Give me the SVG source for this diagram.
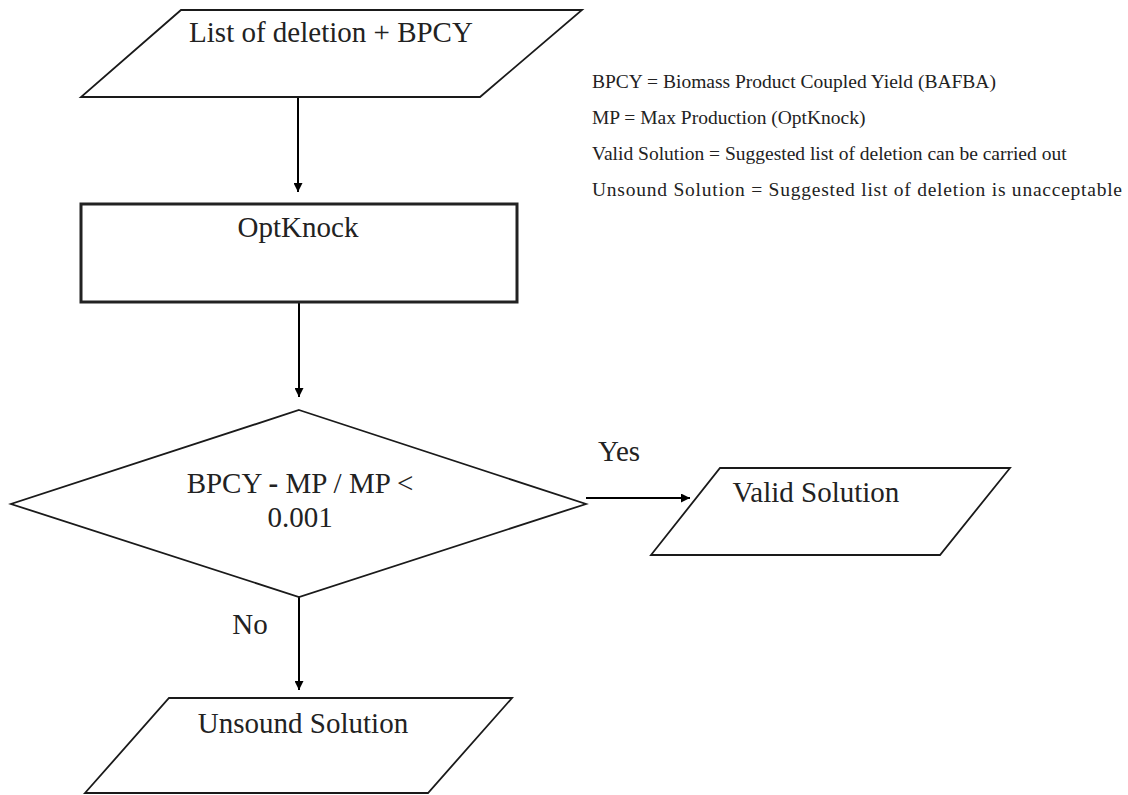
<svg xmlns="http://www.w3.org/2000/svg" width="1128" height="795" viewBox="0 0 1128 795">
<defs>
<style>
.shape{fill:#fff;stroke:#1a1a1a;stroke-width:1.8;stroke-linejoin:miter}
.rect{fill:#fff;stroke:#222;stroke-width:3}
.lbl{font-family:"Liberation Serif","Times New Roman",serif;font-size:29px;fill:#222;text-anchor:middle}
.leg{font-family:"Liberation Serif","Times New Roman",serif;font-size:19.5px;fill:#222}
.conn{stroke:#000;stroke-width:2;fill:none}
</style>
<marker id="arr" viewBox="0 0 10 10" refX="10" refY="5" markerWidth="9" markerHeight="9" markerUnits="userSpaceOnUse" orient="auto">
<path d="M0,0 L10,5 L0,10 z" fill="#000"/>
</marker>
</defs>
<rect width="1128" height="795" fill="#fff"/>
<g id="connectors">
<line class="conn" x1="298" y1="97" x2="298" y2="192" marker-end="url(#arr)"/>
<line class="conn" x1="299" y1="302" x2="299" y2="397" marker-end="url(#arr)"/>
<line class="conn" x1="586" y1="498" x2="690" y2="498" marker-end="url(#arr)"/>
<line class="conn" x1="299" y1="597" x2="299" y2="690" marker-end="url(#arr)"/>
<text class="lbl" x="619" y="461">Yes</text>
<text class="lbl" x="250" y="634">No</text>
</g>
<g id="node-input">
<polygon class="shape" points="181,10 582,10 480,97 81,97"/>
<text class="lbl" x="331" y="42">List of deletion + BPCY</text>
</g>
<g id="node-optknock">
<rect class="rect" x="81" y="204" width="436" height="98"/>
<text class="lbl" x="298" y="237">OptKnock</text>
</g>
<g id="node-decision">
<polygon class="shape" points="299,410 586,504 299,597 11,504"/>
<text class="lbl" x="300" y="493">BPCY <tspan font-weight="bold">-</tspan> MP / MP &lt;</text>
<text class="lbl" x="300" y="527">0.001</text>
</g>
<g id="node-valid">
<polygon class="shape" points="720,468 1010,468 940,555 651,555"/>
<text class="lbl" x="816" y="502">Valid Solution</text>
</g>
<g id="node-unsound">
<polygon class="shape" points="169,698 512,698 428,793 85,793"/>
<text class="lbl" x="303" y="733">Unsound Solution</text>
</g>
<g id="legend">
<text class="leg" x="592" y="88">BPCY = Biomass Product Coupled Yield (BAFBA)</text>
<text class="leg" x="592" y="124">MP = Max Production (OptKnock)</text>
<text class="leg" x="592" y="160">Valid Solution = Suggested list of deletion can be carried out</text>
<text class="leg" x="592" y="196" textLength="530" lengthAdjust="spacing">Unsound Solution = Suggested list of deletion is unacceptable</text>
</g>
</svg>
